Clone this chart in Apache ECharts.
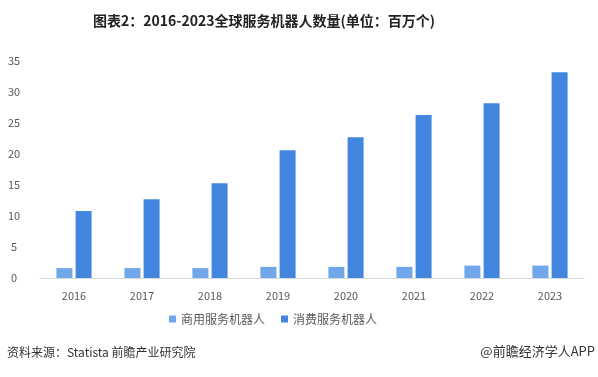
<!DOCTYPE html>
<html>
<head>
<meta charset="utf-8">
<script src="https://cdn.jsdelivr.net/npm/echarts@6/dist/echarts.min.js"></script>
<style>
  html, body { margin: 0; padding: 0; background: #fff; }
  #main { width: 598px; height: 377px; }
</style>
</head>
<body>
<div id="main"></div>
<script>
var years = ['2016', '2017', '2018', '2019', '2020', '2021', '2022', '2023'];
var commercial = [1.6, 1.6, 1.6, 1.8, 1.8, 1.8, 2.0, 2.0];   // 商用服务机器人
var consumer = [10.8, 12.7, 15.3, 20.6, 22.7, 26.3, 28.2, 33.2]; // 消费服务机器人
var yTicks = [0, 5, 10, 15, 20, 25, 30, 35];

var font = '"Noto Sans CJK SC", "Noto Sans", sans-serif';
var myChart = echarts.init(document.getElementById('main'));
var option = {
  textStyle: { fontFamily: font },
  title: {
    text: '图表2：2016-2023全球服务机器人数量(单位：百万个)',
    left: 88,
    top: 9,
    textStyle: { fontSize: 14, fontWeight: 'bold', color: '#222', fontFamily: font }
  },
  legend: {
    bottom: 47,
    left: 164,
    itemWidth: 7,
    itemHeight: 7,
    itemGap: 16,
    itemTextGap: 4,
    icon: 'rect',
    textStyle: { fontSize: 12, color: '#595959' },
    data: ['商用服务机器人', '消费服务机器人']
  },
  grid: { left: 40, right: 14, top: 61, bottom: 99 },
  xAxis: {
    type: 'category',
    data: years,
    axisLine: { lineStyle: { color: '#d9d9d9' } },
    axisTick: { show: false },
    axisLabel: { color: '#595959', fontSize: 11, margin: 12 }
  },
  yAxis: {
    type: 'value',
    min: yTicks[0],
    max: yTicks[yTicks.length - 1],
    interval: 5,
    splitLine: { show: false },
    axisLine: { show: false },
    axisTick: { show: false },
    axisLabel: { color: '#595959', fontSize: 11, align: 'center', margin: 26 }
  },
  series: [
    {
      name: '商用服务机器人',
      type: 'bar',
      barWidth: 16,
      barGap: '20%',
      itemStyle: { color: '#70a6ea' },
      data: commercial
    },
    {
      name: '消费服务机器人',
      type: 'bar',
      barWidth: 16,
      barGap: '20%',
      itemStyle: { color: '#4386e0' },
      data: consumer
    }
  ],
  graphic: [
    {
      type: 'text',
      left: 7,
      top: 346,
      style: { text: '资料来源：Statista 前瞻产业研究院', fill: '#333', fontSize: 12, fontFamily: font }
    },
    {
      type: 'text',
      right: 3,
      top: 345,
      style: { text: '@前瞻经济学人APP', fill: '#333', fontSize: 13, fontFamily: font }
    }
  ]
};
myChart.setOption(option);
</script>
</body>
</html>
